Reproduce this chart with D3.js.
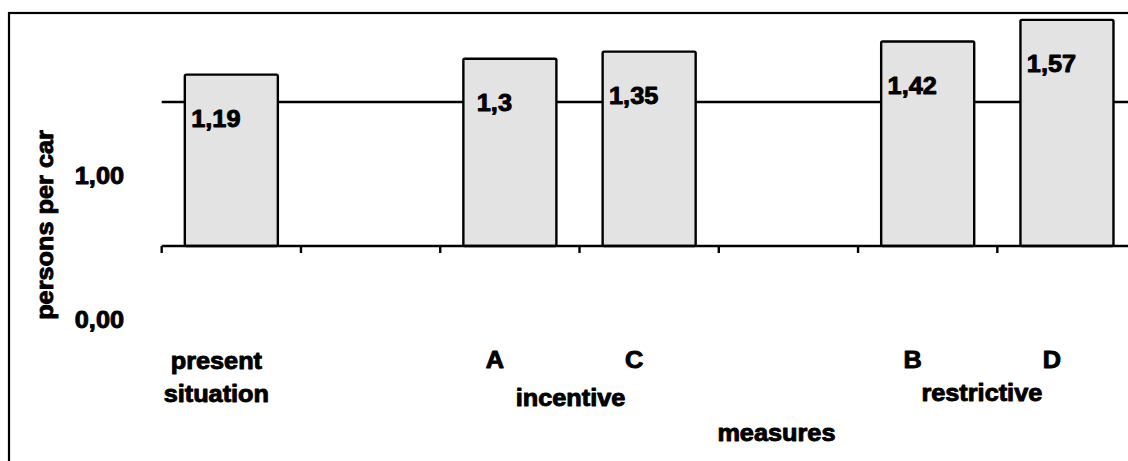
<!DOCTYPE html>
<html>
<head>
<meta charset="utf-8">
<script src="https://cdn.jsdelivr.net/npm/d3@7"></script>
<style>
  html, body { margin: 0; padding: 0; background: #fff; }
  svg { display: block; }
  text { font-family: "Liberation Sans", Arial, sans-serif; font-weight: bold; font-size: 23px; fill: #000;
         stroke: #000; stroke-width: 0.9px; stroke-linejoin: round; }
</style>
</head>
<body>
<script>
// Category slots along the x axis (empty strings are spacer slots)
const categories = ["present situation", "", "A", "C", "", "B", "D"];
// Persons per car for each slot (null = no bar)
const values = [1.19, null, 1.3, 1.35, null, 1.42, 1.57];
// Group labels spanning several slots
const groupLabels = ["incentive", "restrictive"];
const groupSlots = [[2, 3], [5, 6]];
// Y axis ticks
const yTicks = [0, 1];
const yTickLabels = ["0,00", "1,00"];
const yTitle = "persons per car";
const xTitle = "measures";

const W = 1128, H = 461;
const svg = d3.select("body").append("svg").attr("width", W).attr("height", H);

const x = d3.scaleBand()
  .domain(d3.range(categories.length))
  .range([161.7, 1136.6])
  .paddingInner(0.332)
  .paddingOuter(0.166);
const step = x.step();
const slotLeft = i => x(i) - x.paddingOuter() * step;
const center = i => x(i) + x.bandwidth() / 2;

const y = d3.scaleLinear().domain([0, 1]).range([246, 102]);

const sx = 1.1;   // horizontal glyph widening
const label = (g, txt, tx, ty, anchor) =>
  g.append("text")
    .attr("transform", `translate(${tx},${ty}) scale(${sx},1)`)
    .attr("text-anchor", anchor || "middle")
    .text(txt);

// outer frame (only left and top edges fall inside the view)
svg.append("rect")
  .attr("x", 9).attr("y", 13).attr("width", 1300).attr("height", 600)
  .attr("fill", "none").attr("stroke", "#000").attr("stroke-width", 2.2);

// gridline at 1
svg.append("line")
  .attr("x1", x.range()[0]).attr("x2", W + 10)
  .attr("y1", y(1)).attr("y2", y(1))
  .attr("stroke", "#000").attr("stroke-width", 2.5);

// bars
const barData = values.map((v, i) => ({ i, v })).filter(d => d.v != null);
svg.append("g").selectAll("rect").data(barData).join("rect")
  .attr("x", d => x(d.i))
  .attr("y", d => y(d.v))
  .attr("width", x.bandwidth())
  .attr("height", d => y(0) - y(d.v))
  .attr("rx", 1.5)
  .attr("fill", "#e3e3e3")
  .attr("stroke", "#000")
  .attr("stroke-width", 2.4)
  .attr("stroke-linejoin", "round");

// value labels
const vg = svg.append("g");
barData.forEach(d => label(vg, String(d.v).replace(".", ","), center(d.i) - 15.5, y(d.v) + 52));

// x axis line and ticks
svg.append("line")
  .attr("x1", x.range()[0]).attr("x2", W + 10)
  .attr("y1", y(0)).attr("y2", y(0))
  .attr("stroke", "#000").attr("stroke-width", 2.5);
svg.append("g").selectAll("line").data(d3.range(categories.length)).join("line")
  .attr("x1", i => slotLeft(i)).attr("x2", i => slotLeft(i))
  .attr("y1", y(0)).attr("y2", y(0) + 7)
  .attr("stroke", "#000").attr("stroke-width", 2.4);

// y tick labels
const yg = svg.append("g");
yTicks.forEach((t, k) => label(yg, yTickLabels[k], 124, y(t) + 82, "end"));

// y title
svg.append("text")
  .attr("transform", `translate(53,225) rotate(-90) scale(${sx},1)`)
  .attr("text-anchor", "middle")
  .text(yTitle);

// category labels
const cg = svg.append("g");
categories.forEach((c, i) => {
  if (!c) return;
  const words = c.split(" ");
  if (words.length > 1) {
    label(cg, words[0], center(i) - 15, 369);
    label(cg, words.slice(1).join(" "), center(i) - 15, 402);
  } else {
    label(cg, c, center(i) - 15, 368);
  }
});

// group labels
const groupDy = [406, 401];
const groupDx = [-9, -15.5];
groupLabels.forEach((g, k) => {
  const [a, b] = groupSlots[k];
  label(cg, g, (center(a) + center(b)) / 2 + groupDx[k], groupDy[k]);
});

// x title, centred over the measure slots
label(svg, xTitle, (slotLeft(2) + x.range()[1]) / 2 - 12, 441);
</script>
</body>
</html>
